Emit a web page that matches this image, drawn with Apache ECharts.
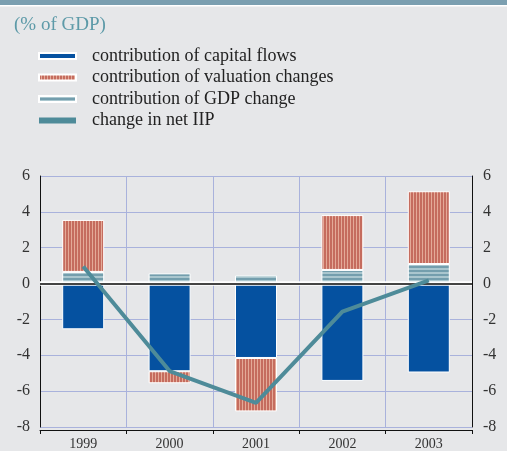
<!DOCTYPE html>
<html>
<head>
<meta charset="utf-8">
<script src="https://cdn.jsdelivr.net/npm/echarts@6/dist/echarts.min.js"></script>
<style>
html,body{margin:0;padding:0;background:#e6e7e9;}
#c{width:507px;height:451px;}
</style>
</head>
<body>
<div id="c"></div>
<script>
var categories = ['1999', '2000', '2001', '2002', '2003'];
var capitalFlows = [-2.55, -4.89, -4.15, -5.43, -4.96];
var valuationChanges = [2.9, -0.67, -2.98, 3.06, 4.06];
var gdpChange = [0.65, 0.57, 0.46, 0.76, 1.09];
var netIIP = [0.95, -4.88, -6.65, -1.57, 0.18];
var yTicks = [-8, -6, -4, -2, 0, 2, 4, 6];

function stripes(w, h, draw) {
  var cv = document.createElement('canvas');
  cv.width = w; cv.height = h;
  draw(cv.getContext('2d'));
  return cv;
}
var vStripe = stripes(3, 1, function (g) {
  g.fillStyle = '#c56c5e'; g.fillRect(0, 0, 2, 1);
  g.fillStyle = '#e4aa98'; g.fillRect(2, 0, 1, 1);
});
var hStripe = stripes(1, 4, function (g) {
  g.fillStyle = '#a9c6ce'; g.fillRect(0, 0, 1, 2);
  g.fillStyle = '#739ead'; g.fillRect(0, 2, 1, 2);
});

var serif = '"Liberation Serif", "DejaVu Serif", serif';
var chart = echarts.init(document.getElementById('c'), null, {renderer: 'canvas'});
chart.setOption({
  backgroundColor: '#e6e7e9',
  animation: false,
  graphic: [
    {type: 'rect', left: 0, top: 0, shape: {width: 507, height: 5}, style: {fill: '#7b9fb0'}},
    {type: 'rect', left: 0, top: 5, shape: {width: 507, height: 1.5}, style: {fill: '#ffffff'}}
  ],
  title: {
    text: '(% of GDP)',
    left: 9, top: 11,
    textStyle: {fontFamily: serif, fontSize: 19, fontWeight: 'normal', color: '#5d9aa8'}
  },
  legend: {
    orient: 'vertical',
    left: 38, top: 47,
    padding: 0,
    itemWidth: 37, itemHeight: 6,
    itemGap: 3.5,
    icon: 'rect',
    data: ['contribution of capital flows', 'contribution of valuation changes', 'contribution of GDP change', 'change in net IIP'],
    textStyle: {fontFamily: serif, fontSize: 18, color: '#222', lineHeight: 18, padding: [0, 0, 0, 11]}
  },
  grid: {left: 40, right: 35, top: 176, bottom: 23, containLabel: false},
  xAxis: {
    type: 'category',
    data: categories,
    position: 'bottom',
    offset: 3,
    axisLine: {onZero: false, lineStyle: {color: '#111', width: 1}},
    axisTick: {show: true, length: 4, lineStyle: {color: '#111'}},
    axisLabel: {fontFamily: serif, fontSize: 14, color: '#333', margin: 7},
    splitLine: {show: true, lineStyle: {color: '#a9b2dc', width: 1}}
  },
  yAxis: [{
    type: 'value', min: -8, max: 6, interval: 2, position: 'left',
    axisLine: {show: true, onZero: false, lineStyle: {color: '#111', width: 1}},
    axisTick: {show: false},
    axisLabel: {fontFamily: serif, fontSize: 16, color: '#333', margin: 10,
      formatter: function (v) { return yTicks.indexOf(v) >= 0 ? String(v) : ''; }},
    splitLine: {show: true, lineStyle: {color: '#a9b2dc', width: 1.2}}
  }, {
    type: 'value', min: -8, max: 6, interval: 2, position: 'right',
    axisLine: {show: true, onZero: false, lineStyle: {color: '#111', width: 1}},
    axisTick: {show: false},
    axisLabel: {fontFamily: serif, fontSize: 16, color: '#333', margin: 11, align: 'left'},
    splitLine: {show: false}
  }],
  series: [
    {
      name: 'contribution of capital flows', type: 'bar', stack: 's', barWidth: 42,
      data: capitalFlows,
      itemStyle: {color: '#0551a0', borderColor: '#ffffff', borderWidth: 1},
      markLine: {
        silent: true, symbol: 'none', label: {show: false},
        data: [
          {yAxis: 0, lineStyle: {color: '#ffffff', width: 4.5, type: 'solid'}},
          {yAxis: 0, lineStyle: {color: '#444444', width: 2, type: 'solid'}}
        ]
      },
      z: 2
    },
    {
      name: 'contribution of GDP change', type: 'bar', stack: 's', barWidth: 42,
      data: gdpChange,
      itemStyle: {color: {image: hStripe, repeat: 'repeat'}, borderColor: '#ffffff', borderWidth: 1},
      z: 2
    },
    {
      name: 'contribution of valuation changes', type: 'bar', stack: 's', barWidth: 42,
      data: valuationChanges,
      itemStyle: {color: {image: vStripe, repeat: 'repeat'}, borderColor: '#ffffff', borderWidth: 1},
      z: 2
    },
    {
      name: 'change in net IIP', type: 'line', data: netIIP,
      symbol: 'none', z: 5,
      lineStyle: {color: '#4e8b99', width: 4},
      itemStyle: {color: '#4e8b99'}
    }
  ]
});
</script>
</body>
</html>
